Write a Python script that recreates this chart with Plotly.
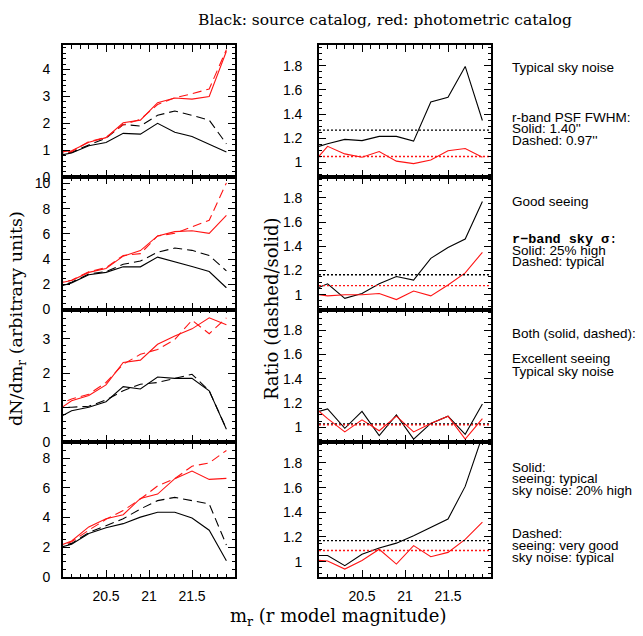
import plotly.graph_objects as go

# Bin centres in r model magnitude (first bin lies just left of the axis and is clipped)
mag = [19.9, 20.1, 20.3, 20.5, 20.7, 20.9, 21.1, 21.3, 21.5, 21.7, 21.9]

# Row 1: typical sky noise, PSF FWHM 1.40" (solid) vs 0.97" (dashed)
src_solid_1 = [0.78, 0.90, 1.17, 1.29, 1.63, 1.60, 2.00, 1.67, 1.51, 1.21, 0.94]
src_dash_1 = [0.88, 0.92, 1.20, 1.45, 1.96, 1.90, 2.30, 2.46, 2.30, 2.12, 1.24]
pho_solid_1 = [0.92, 0.98, 1.30, 1.47, 2.02, 2.12, 2.77, 2.94, 2.90, 3.00, 4.68]
pho_dash_1 = [0.86, 0.95, 1.32, 1.48, 1.95, 2.15, 2.70, 2.95, 3.10, 3.28, 4.74]
ratio_src_1 = [1.11, 1.155, 1.19, 1.18, 1.215, 1.215, 1.176, 1.50, 1.54, 1.795, 1.347]
ratio_pho_1 = [0.97, 1.133, 1.07, 1.043, 1.09, 1.01, 0.99, 1.02, 1.096, 1.115, 1.043]

# Row 2: good seeing, sky sigma 25% high (solid) vs typical (dashed)
src_solid_2 = [1.70, 2.12, 2.76, 2.95, 3.39, 3.39, 4.16, 3.80, 3.41, 3.02, 1.73]
src_dash_2 = [1.75, 2.17, 2.82, 3.02, 3.59, 3.85, 4.55, 4.88, 4.70, 4.29, 3.07]
pho_solid_2 = [2.04, 2.30, 2.95, 3.26, 4.24, 4.68, 5.84, 6.18, 6.25, 6.05, 7.47]
pho_dash_2 = [2.11, 2.33, 3.00, 3.33, 4.29, 4.44, 5.84, 6.05, 6.56, 7.08, 10.05]
ratio_src_2 = [1.03, 1.09, 0.97, 1.01, 1.09, 1.15, 1.12, 1.30, 1.39, 1.46, 1.77]
ratio_pho_2 = [1.01, 0.99, 1.00, 1.00, 1.01, 0.96, 1.03, 0.99, 1.08, 1.18, 1.35]

# Row 3: excellent seeing, typical sky noise for both
src_solid_3 = [0.63, 0.91, 1.01, 1.17, 1.61, 1.54, 1.89, 1.85, 1.85, 1.49, 0.37]
src_dash_3 = [1.01, 1.01, 1.04, 1.22, 1.49, 1.68, 1.73, 1.85, 1.97, 1.49, 0.38]
pho_solid_3 = [0.86, 1.20, 1.35, 1.66, 2.31, 2.38, 2.84, 3.08, 3.29, 3.61, 3.41]
pho_dash_3 = [1.05, 1.25, 1.39, 1.73, 2.26, 2.55, 2.69, 2.98, 3.54, 3.15, 3.61]
ratio_src_3 = [1.11, 1.15, 0.99, 1.13, 0.93, 1.10, 0.90, 1.03, 1.09, 0.94, 1.19]
ratio_pho_3 = [1.19, 1.07, 0.96, 1.06, 0.97, 1.09, 0.96, 1.03, 1.09, 0.90, 1.07]

# Row 4: typical seeing + 20% high noise (solid) vs very good seeing (dashed)
src_solid_4 = [1.87, 2.19, 2.92, 3.31, 3.58, 4.02, 4.35, 4.35, 3.96, 3.14, 1.08]
src_dash_4 = [1.95, 2.25, 2.98, 3.47, 3.91, 4.57, 5.13, 5.35, 5.13, 4.91, 2.14]
pho_solid_4 = [1.97, 2.41, 3.36, 3.91, 4.18, 5.28, 5.57, 6.61, 7.12, 6.56, 6.63]
pho_dash_4 = [1.92, 2.36, 3.14, 3.87, 4.46, 5.24, 6.12, 6.61, 7.45, 7.67, 8.51]
ratio_src_4 = [1.05, 1.05, 0.967, 1.06, 1.11, 1.15, 1.21, 1.28, 1.345, 1.61, 2.02]
ratio_pho_4 = [1.015, 1.005, 0.94, 1.01, 1.10, 0.98, 1.13, 1.04, 1.075, 1.18, 1.32]

# Mean ratio levels (dotted reference lines)
mean_ratio_src = [1.267, 1.165, 1.025, 1.17]
mean_ratio_pho = [1.048, 1.075, 1.018, 1.09]

# Axis setup per row
count_ranges = [[0, 4.9], [0, 10.5], [0, 3.85], [0, 9.08]]
count_ticks = [[0, 1, 2, 3, 4], [0, 2, 4, 6, 8, 10], [0, 1, 2, 3], [0, 2, 4, 6, 8]]
count_minor = [0.2, 0.5, 0.2, 0.5]
ratio_range = [0.877, 1.97]
ratio_ticks = [1, 1.2, 1.4, 1.6, 1.8]
mag_ticks = [20.5, 21, 21.5]
mag_labels = ["20.5", "21", "21.5"]

rows = [
    (src_solid_1, src_dash_1, pho_solid_1, pho_dash_1, ratio_src_1, ratio_pho_1),
    (src_solid_2, src_dash_2, pho_solid_2, pho_dash_2, ratio_src_2, ratio_pho_2),
    (src_solid_3, src_dash_3, pho_solid_3, pho_dash_3, ratio_src_3, ratio_pho_3),
    (src_solid_4, src_dash_4, pho_solid_4, pho_dash_4, ratio_src_4, ratio_pho_4),
]

W, H = 643, 636
col_px = [(63, 235), (319, 491)]
row_px = [(44, 178), (178, 312.5), (312.5, 447), (447, 584)]

RED = "rgb(255,20,20)"
BLACK = "black"
LW = 1.1
DASH = "9px,5px"
TICKFONT = dict(family="Liberation Sans, Arial, sans-serif", size=14, color="black")

fig = go.Figure()
layout = {}


def xdom(c):
    return [col_px[c][0] / W, col_px[c][1] / W]


def ydom(r):
    return [1 - row_px[r][1] / H, 1 - row_px[r][0] / H]


for r, (bs, bd, rs, rd, rat_b, rat_r) in enumerate(rows):
    for c in range(2):
        n = r * 2 + c + 1
        xa = "x" if n == 1 else f"x{n}"
        ya = "y" if n == 1 else f"y{n}"
        if c == 0:
            series = [(bs, BLACK, "solid"), (bd, BLACK, DASH), (rs, RED, "solid"), (rd, RED, DASH)]
        else:
            series = [(rat_b, BLACK, "solid"), (rat_r, RED, "solid")]
        for vals, col, dash in series:
            fig.add_trace(go.Scatter(
                x=mag, y=vals, mode="lines", xaxis=xa, yaxis=ya,
                line=dict(color=col, width=LW, dash=dash), showlegend=False,
                hoverinfo="skip"))
        if c == 1:
            for lvl, col in ((mean_ratio_src[r], BLACK), (mean_ratio_pho[r], RED)):
                fig.add_trace(go.Scatter(
                    x=[20, 22], y=[lvl, lvl], mode="lines", xaxis=xa, yaxis=ya,
                    line=dict(color=col, width=1.4, dash="2px,2px"), showlegend=False,
                    hoverinfo="skip"))

        axis_common = dict(
            showline=True, linecolor="black", linewidth=1.6, mirror="allticks",
            ticks="inside", ticklen=7, tickwidth=1.2, tickcolor="black",
            showgrid=False, zeroline=False, tickfont=TICKFONT,
        )
        layout[f"xaxis{n}"] = dict(
            axis_common, domain=xdom(c), anchor=ya, range=[20, 22],
            tickmode="array", tickvals=mag_ticks, ticktext=mag_labels,
            showticklabels=(r == 3), ticklabelstandoff=6,
            minor=dict(ticks="inside", ticklen=3.5, tickwidth=1, tickcolor="black",
                       dtick=0.1, tick0=20, showgrid=False),
        )
        if c == 0:
            yr, yt, ym = count_ranges[r], count_ticks[r], count_minor[r]
            standoff = 8
        else:
            yr, yt, ym = ratio_range, ratio_ticks, 0.05
            standoff = 12
        layout[f"yaxis{n}"] = dict(
            axis_common, domain=ydom(r), anchor=xa, range=yr,
            tickmode="array", tickvals=yt, ticktext=[f"{v:g}" for v in yt],
            ticklabelstandoff=standoff,
            minor=dict(ticks="inside", ticklen=3.5, tickwidth=1, tickcolor="black",
                       dtick=ym, tick0=0, showgrid=False),
        )

layout["xaxis"] = layout.pop("xaxis1")
layout["yaxis"] = layout.pop("yaxis1")

SERIF = "DejaVu Serif, Liberation Serif, serif"
SANS = "Liberation Sans, Arial, sans-serif"
MONO = "Liberation Mono, Courier New, monospace"

annotations = [
    dict(text="Black: source catalog, red: photometric catalog", x=385 / W, y=1 - 18 / H,
         font=dict(family=SERIF, size=15.5)),
    dict(text="m<sub>r</sub> (r model magnitude)", x=338 / W, y=1 - 625 / H,
         font=dict(family=SERIF, size=18)),
    dict(text="dN/dm<sub>r</sub> (arbitrary units)", x=18 / W, y=1 - 322 / H, textangle=-90,
         font=dict(family=SERIF, size=17.5)),
    dict(text="Ratio (dashed/solid)", x=271 / W, y=1 - 312 / H, textangle=-90,
         font=dict(family=SERIF, size=18)),
]

side_notes = [
    ("Typical sky noise", 66.7, SANS),
    ("r-band PSF FWHM:", 117, SANS),
    ("Solid: 1.40''", 129, SANS),
    ("Dashed: 0.97''", 140.5, SANS),
    ("Good seeing", 203, SANS),
    ("<b>r\u2212band sky \u03c3</b>:", 241, MONO),
    ("Solid: 25% high", 252.5, SANS),
    ("Dashed: typical", 264, SANS),
    ("Both (solid, dashed):", 336.7, SANS),
    ("Excellent seeing", 362, SANS),
    ("Typical sky noise", 375, SANS),
    ("Solid:", 472.5, SANS),
    ("seeing: typical", 484.5, SANS),
    ("sky noise: 20% high", 496.5, SANS),
    ("Dashed:", 540, SANS),
    ("seeing: very good", 552, SANS),
    ("sky noise: typical", 564, SANS),
]
for txt, ypx, fam in side_notes:
    annotations.append(dict(text=txt, x=510 / W, y=1 - ypx / H, xanchor="left",
                            font=dict(family=fam, size=13.5)))

for a in annotations:
    a.setdefault("xanchor", "center")
    a.update(xref="paper", yref="paper", yanchor="middle", showarrow=False)
    a["font"].setdefault("color", "black")

fig.update_layout(
    width=W, height=H, autosize=False,
    margin=dict(l=0, r=0, t=0, b=0),
    paper_bgcolor="white", plot_bgcolor="white",
    annotations=annotations,
    **layout,
)

fig.write_html("out.html")
